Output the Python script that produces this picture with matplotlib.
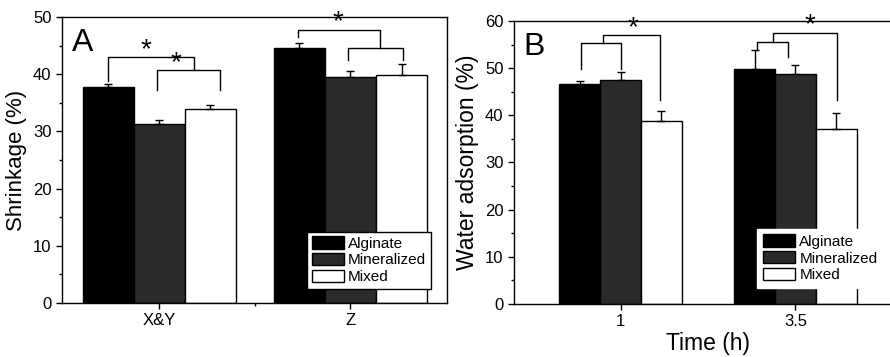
import matplotlib
matplotlib.use("Agg")
import matplotlib.pyplot as plt
from matplotlib.patches import Patch
from matplotlib.ticker import MultipleLocator, FixedLocator
import numpy as np

plt.rcParams['font.family'] = ['Liberation Sans', 'DejaVu Sans']

series = ["Alginate", "Mineralized", "Mixed"]
colors = ["#000000", "#2b2b2b", "#ffffff"]

# Panel A: Shrinkage
a_categories = ["X&Y", "Z"]
a_alginate = [37.7, 44.6]
a_mineralized = [31.3, 39.5]
a_mixed = [33.9, 39.9]
a_alginate_err = [0.6, 0.9]
a_mineralized_err = [0.7, 1.1]
a_mixed_err = [0.8, 1.8]

# Panel B: Water adsorption
b_categories = ["1", "3.5"]
b_alginate = [46.6, 49.8]
b_mineralized = [47.4, 48.7]
b_mixed = [38.9, 37.2]
b_alginate_err = [0.6, 4.0]
b_mineralized_err = [1.8, 1.9]
b_mixed_err = [2.0, 3.3]

fig = plt.figure(figsize=(8.9, 3.57), dpi=100)
axA = fig.add_axes([0.0697, 0.1513, 0.4326, 0.801])
axB = fig.add_axes([0.5775, 0.1485, 0.436, 0.7927])


def draw_bars(ax, cats, vals, errs, width):
    x = np.arange(1, len(cats) + 1)
    offs = [-width, 0, width]
    for v, e, c, o, name in zip(vals, errs, colors, offs, series):
        ax.bar(x + o, v, width=width, color=c, edgecolor='black', linewidth=1.0,
               label=name, zorder=2)
        ax.errorbar(x + o, v, yerr=[np.zeros(len(v)), e], fmt='none',
                    ecolor='black', elinewidth=1.0, capsize=3, capthick=1.0, zorder=3)
    ax.set_xticks(x)
    ax.set_xticklabels(cats)
    return x


def bracket(ax, x1, x2, ytop, yl, yr):
    ax.plot([x1, x1, x2, x2], [yl, ytop, ytop, yr], color='black', lw=1.0, zorder=4,
            clip_on=False)


def style(ax):
    for s in ax.spines.values():
        s.set_linewidth(1.0)
    ax.tick_params(axis='both', which='major', direction='out', length=4, width=1,
                   labelsize=12, top=False, right=False)
    ax.tick_params(axis='both', which='minor', direction='out', length=2.5, width=1,
                   top=False, right=False)


STAR = 20

# ---- Panel A
wA = 0.267
draw_bars(axA, a_categories, [a_alginate, a_mineralized, a_mixed],
          [a_alginate_err, a_mineralized_err, a_mixed_err], wA)
axA.set_xlim(0.492, 2.505)
axA.set_ylim(0, 50)
axA.yaxis.set_major_locator(MultipleLocator(10))
axA.yaxis.set_minor_locator(MultipleLocator(5))
axA.xaxis.set_minor_locator(FixedLocator([1.5]))
style(axA)
axA.tick_params(axis='x', labelsize=12)
axA.set_ylabel("Shrinkage (%)", fontsize=16, labelpad=4)
axA.text(0.025, 0.96, "A", transform=axA.transAxes, fontsize=23, va='top', ha='left')

bracket(axA, 0.733, 1.18, 43.0, 38.9, 40.7)
bracket(axA, 0.99, 1.32, 40.7, 37.3, 37.3)
axA.text(0.93, 42.0, "*", fontsize=STAR, ha='center', va='bottom')
axA.text(1.085, 39.6, "*", fontsize=STAR, ha='center', va='bottom')
bracket(axA, 1.726, 2.153, 47.8, 46.5, 44.5)
bracket(axA, 1.988, 2.276, 44.5, 42.4, 42.4)
axA.text(1.934, 46.8, "*", fontsize=STAR, ha='center', va='bottom')

handles = [Patch(facecolor=c, edgecolor='black', linewidth=1.0, label=n)
           for c, n in zip(colors, series)]
legA = axA.legend(handles=handles, loc='lower right', bbox_to_anchor=(0.958, 0.05),
                  fontsize=11, frameon=True, fancybox=False, framealpha=1,
                  edgecolor='black', handlelength=2.15, handleheight=0.85,
                  handletextpad=0.25, labelspacing=0.15, borderpad=0.3,
                  borderaxespad=0)
legA.get_frame().set_linewidth(1.0)

# ---- Panel B
wB = 0.234
draw_bars(axB, b_categories, [b_alginate, b_mineralized, b_mixed],
          [b_alginate_err, b_mineralized_err, b_mixed_err], wB)
axB.set_xlim(0.391, 2.609)
axB.set_ylim(0, 60)
axB.yaxis.set_major_locator(MultipleLocator(10))
axB.yaxis.set_minor_locator(MultipleLocator(5))
style(axB)
axB.spines['right'].set_visible(False)
axB.set_ylabel("Water adsorption (%)", fontsize=16.5, labelpad=4)
axB.set_xlabel("Time (h)", fontsize=16.5, labelpad=2)
axB.text(0.025, 0.96, "B", transform=axB.transAxes, fontsize=23, va='top', ha='left')

bracket(axB, 0.774, 1.0, 55.3, 49.9, 49.9)
bracket(axB, 0.9, 1.226, 57.0, 55.3, 43.2)
axB.text(1.073, 55.8, "*", fontsize=STAR, ha='center', va='bottom')
bracket(axB, 1.78, 1.96, 55.5, 53.9, 52.4)
bracket(axB, 1.87, 2.24, 57.5, 55.5, 43.2)
axB.text(2.083, 56.3, "*", fontsize=STAR, ha='center', va='bottom')

legB = axB.legend(handles=handles, loc='lower left', bbox_to_anchor=(0.627, 0.058),
                  fontsize=11, frameon=True, fancybox=False, framealpha=1,
                  edgecolor='white', handlelength=2.15, handleheight=0.85,
                  handletextpad=0.25, labelspacing=0.15, borderpad=0.35,
                  borderaxespad=0)
legB.set_zorder(5)
legA.set_zorder(5)

fig.savefig("out.png", dpi=100)
